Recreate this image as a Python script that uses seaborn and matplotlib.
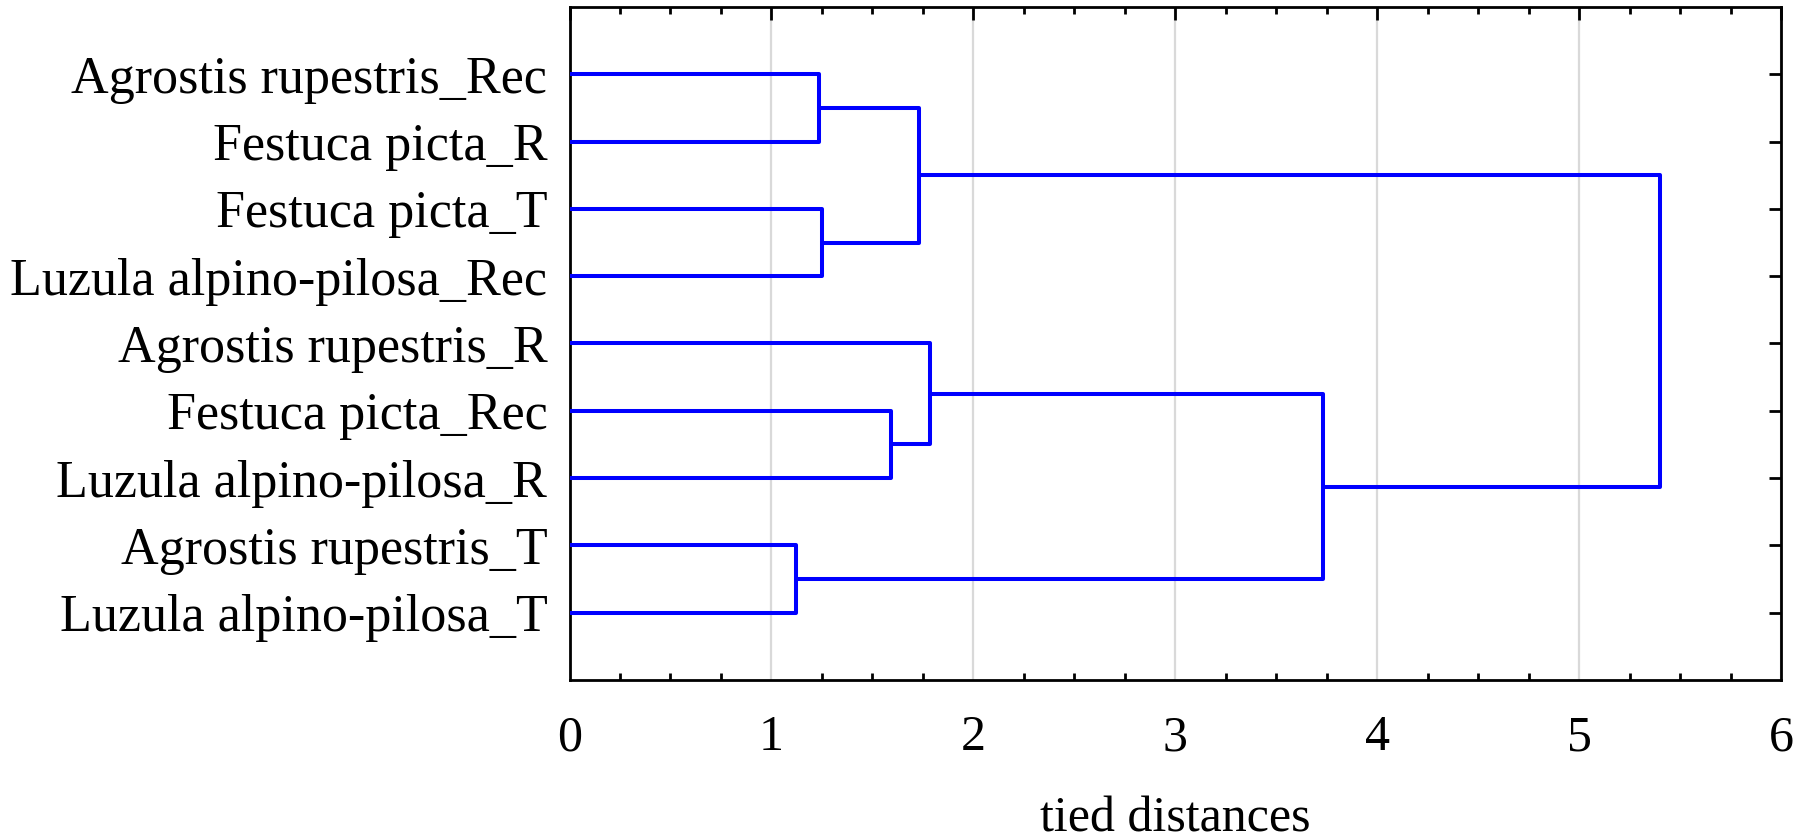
import numpy as np
import pandas as pd
import matplotlib
matplotlib.use("Agg")
import matplotlib.pyplot as plt
import seaborn as sns
from matplotlib.ticker import MultipleLocator

# ---- data ----
leaves = [
    "Agrostis rupestris_Rec",
    "Festuca picta_R",
    "Festuca picta_T",
    "Luzula alpino-pilosa_Rec",
    "Agrostis rupestris_R",
    "Festuca picta_Rec",
    "Luzula alpino-pilosa_R",
    "Agrostis rupestris_T",
    "Luzula alpino-pilosa_T",
]
# cluster ids: leaves 0..8, merges get ids 9, 10, ...
merge_left = [0, 2, 9, 5, 4, 7, 13, 11]
merge_right = [1, 3, 10, 6, 12, 8, 14, 15]
merge_height = [1.237, 1.252, 1.731, 1.591, 1.786, 1.120, 3.734, 5.40]
xticks = [0, 1, 2, 3, 4, 5, 6]
xlabel = "tied distances"

sns.set_theme(style="white")
plt.rcParams['font.family'] = ['Liberation Serif', 'DejaVu Serif']

n = len(leaves)
pos = {i: i + 1 for i in range(n)}
hgt = {i: 0.0 for i in range(n)}
rows = []
for k, (a, b, h) in enumerate(zip(merge_left, merge_right, merge_height)):
    ya, yb = pos[a], pos[b]
    for x, y in [(hgt[a], ya), (h, ya), (h, yb), (hgt[b], yb)]:
        rows.append(dict(link=k, x=x, y=y))
    pos[n + k] = (ya + yb) / 2
    hgt[n + k] = h
df = pd.DataFrame(rows)

fig = plt.figure(figsize=(18.08, 8.39), dpi=100)
ax = fig.add_axes([0.31499, 0.18951, 0.67008, 0.80215])
ax.xaxis.grid(True, color='#d9d9d9', lw=1.6)
ax.yaxis.grid(False)
ax.set_axisbelow(True)

sns.lineplot(data=df, x='x', y='y', units='link', estimator=None, sort=False,
             color='#0000ff', lw=2.9, ax=ax, legend=False, zorder=3)

ax.set_xlim(0, 6)
ax.set_ylim(n + 1, 0)
ax.set_xticks(xticks)
ax.set_xticklabels([str(t) for t in xticks])
ax.set_yticks(range(1, n + 1))
ax.set_yticklabels(leaves)
ax.xaxis.set_minor_locator(MultipleLocator(0.25))
ax.tick_params(axis='both', which='major', direction='in', top=True, right=True,
               length=9, width=2, color='black', labelsize=36, labelcolor='black')
ax.tick_params(axis='y', which='major', labelsize=37.5, pad=16)
ax.tick_params(axis='x', which='major', pad=25)
ax.tick_params(axis='x', which='minor', direction='in', top=True, bottom=True,
               length=5, width=2, color='black')
for s in ax.spines.values():
    s.set_visible(True)
    s.set_color('black')
    s.set_linewidth(2.0)
ax.set_xlabel(xlabel, fontsize=36, labelpad=25, color='black')
ax.set_ylabel('')

fig.savefig('out.png', dpi=100, facecolor='white')
